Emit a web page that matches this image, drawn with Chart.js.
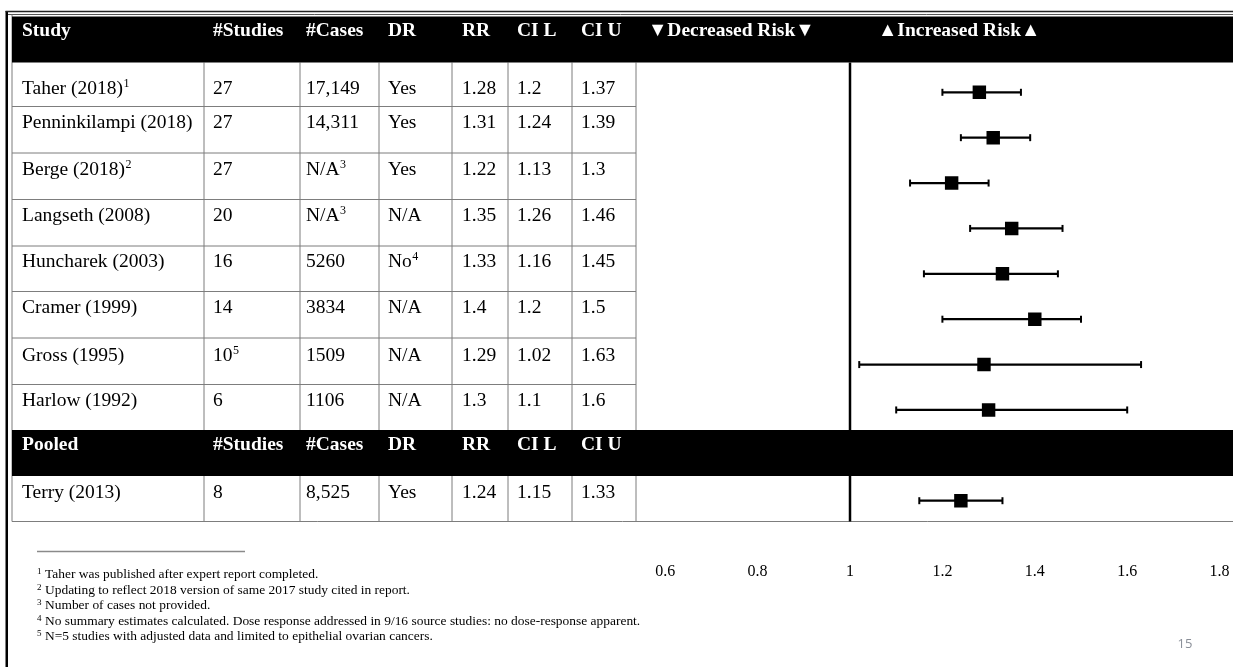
<!DOCTYPE html>
<html>
<head>
<meta charset="utf-8">
<script src="https://cdn.jsdelivr.net/npm/chart.js@4.4.0/dist/chart.umd.min.js"></script>
<style>
  html, body { margin: 0; padding: 0; background: #fff; overflow: hidden; }
  canvas { display: block; }
</style>
</head>
<body>
<canvas id="forest" width="1233" height="667"></canvas>
<script>
// ---------- data ----------
const headerLabels = ['Study', '#Studies', '#Cases', 'DR', 'RR', 'CI L', 'CI U'];
const pooledLabels = ['Pooled', '#Studies', '#Cases', 'DR', 'RR', 'CI L', 'CI U'];
const riskLabels = ['\u25BCDecreased Risk\u25BC', '\u25B2Increased Risk\u25B2'];

const studyNames   = ['Taher (2018)', 'Penninkilampi (2018)', 'Berge (2018)', 'Langseth (2008)', 'Huncharek (2003)', 'Cramer (1999)', 'Gross (1995)', 'Harlow (1992)'];
const studyNotes   = ['1', '', '2', '', '', '', '', ''];
const studyCounts  = ['27', '27', '27', '20', '16', '14', '10', '6'];
const countNotes   = ['', '', '', '', '', '', '5', ''];
const caseCounts   = ['17,149', '14,311', 'N/A', 'N/A', '5260', '3834', '1509', '1106'];
const caseNotes    = ['', '', '3', '3', '', '', '', ''];
const doseResponse = ['Yes', 'Yes', 'Yes', 'N/A', 'No', 'N/A', 'N/A', 'N/A'];
const drNotes      = ['', '', '', '', '4', '', '', ''];
const relRisk      = [1.28, 1.31, 1.22, 1.35, 1.33, 1.4, 1.29, 1.3];
const ciLower      = [1.2, 1.24, 1.13, 1.26, 1.16, 1.2, 1.02, 1.1];
const ciUpper      = [1.37, 1.39, 1.3, 1.46, 1.45, 1.5, 1.63, 1.6];

const pooledNames  = ['Terry (2013)'];
const pooledCounts = ['8'];
const pooledCases  = ['8,525'];
const pooledDR     = ['Yes'];
const pooledRR     = [1.24];
const pooledLower  = [1.15];
const pooledUpper  = [1.33];

const xTicks = [0.6, 0.8, 1, 1.2, 1.4, 1.6, 1.8];
const referenceRR = 1;

const footnoteMarks = ['1', '2', '3', '4', '5'];
const footnotes = [
  'Taher was published after expert report completed.',
  'Updating to reflect 2018 version of same 2017 study cited in report.',
  'Number of cases not provided.',
  'No summary estimates calculated. Dose response addressed in 9/16 source studies: no dose-response apparent.',
  'N=5 studies with adjusted data and limited to epithelial ovarian cancers.'
];
const pageNumber = '15';

// ---------- layout ----------
const W = 1233, H = 667;
const COLS = [12, 204, 300, 379, 452, 508, 572, 636];
const PADS = [10, 9, 6, 9, 10, 9, 9];
const RISK_X = [648, 878];
const HEADER_BAND = [16.5, 62.5];
const ROW_LINES = [106.5, 153, 199.5, 246, 291.5, 338, 384.5];
const POOLED_BAND = [430, 476];
const TABLE_BOTTOM = 521.5;
const HEADER_BASE = 36;
const POOLED_HEADER_BASE = 449.5;
const ROW_BASES = [94, 128, 175, 221, 267, 313, 360.5, 406];
const POOLED_BASES = [497.5];
const FOOT_BASES = [578, 593.5, 609, 624.5, 640];
const SERIF = '"Liberation Serif", "Times New Roman", serif';
const GRID = '#7d7d7d';

function font(size, bold) { return (bold ? 'bold ' : '') + size + 'px ' + SERIF; }

function cellText(ctx, text, note, x, base, opts) {
  const size = opts.size || 19.5;
  ctx.font = font(size, opts.bold);
  ctx.fillStyle = opts.color || '#000';
  ctx.textAlign = 'left';
  ctx.textBaseline = 'alphabetic';
  ctx.fillText(text, x, base);
  if (note) {
    const w = ctx.measureText(text).width;
    ctx.font = font(opts.noteSize || 12, false);
    ctx.fillText(note, x + w + 0.5, base - (opts.raise || 7));
  }
}

function hline(ctx, x0, x1, y, color, lw) {
  ctx.strokeStyle = color; ctx.lineWidth = lw;
  ctx.beginPath(); ctx.moveTo(x0, y); ctx.lineTo(x1, y); ctx.stroke();
}
function vline(ctx, x, y0, y1, color, lw) {
  ctx.strokeStyle = color; ctx.lineWidth = lw;
  ctx.beginPath(); ctx.moveTo(x, y0); ctx.lineTo(x, y1); ctx.stroke();
}

// table, frame and notes painted beneath the plot
const tablePlugin = {
  id: 'table',
  beforeDraw(chart) {
    const ctx = chart.ctx;
    ctx.save();
    ctx.fillStyle = '#fff';
    ctx.fillRect(0, 0, W, H);

    // outer frame
    ctx.fillStyle = '#000';
    ctx.fillRect(5.5, 11, 2.5, H - 11);
    hline(ctx, 5.5, W, 11.5, '#222', 1.3);
    hline(ctx, 8, W, 14.5, '#555', 1);
    vline(ctx, 12, 14.5, TABLE_BOTTOM, GRID, 1);

    // grid lines of the table
    ROW_LINES.forEach(y => hline(ctx, 12, COLS[7], y, GRID, 1));
    hline(ctx, 12, W, TABLE_BOTTOM, GRID, 1);
    COLS.slice(1).forEach(x => {
      vline(ctx, x, HEADER_BAND[1], POOLED_BAND[0], GRID, 1);
      vline(ctx, x, POOLED_BAND[1], TABLE_BOTTOM, GRID, 1);
    });

    // black header bands
    ctx.fillStyle = '#000';
    ctx.fillRect(12, HEADER_BAND[0], W - 12, HEADER_BAND[1] - HEADER_BAND[0]);
    ctx.fillRect(12, POOLED_BAND[0], W - 12, POOLED_BAND[1] - POOLED_BAND[0]);

    headerLabels.forEach((t, c) => cellText(ctx, t, '', COLS[c] + PADS[c], HEADER_BASE, { bold: true, color: '#fff' }));
    riskLabels.forEach((t, i) => cellText(ctx, t, '', RISK_X[i], HEADER_BASE, { bold: true, color: '#fff' }));
    pooledLabels.forEach((t, c) => cellText(ctx, t, '', COLS[c] + PADS[c], POOLED_HEADER_BASE, { bold: true, color: '#fff' }));

    // study rows
    studyNames.forEach((name, r) => {
      const b = ROW_BASES[r];
      const cells = [
        [name, studyNotes[r]], [studyCounts[r], countNotes[r]], [caseCounts[r], caseNotes[r]],
        [doseResponse[r], drNotes[r]], [String(relRisk[r]), ''], [String(ciLower[r]), ''], [String(ciUpper[r]), '']
      ];
      cells.forEach((cell, c) => cellText(ctx, cell[0], cell[1], COLS[c] + PADS[c], b, {}));
    });
    pooledNames.forEach((name, r) => {
      const b = POOLED_BASES[r];
      const cells = [name, pooledCounts[r], pooledCases[r], pooledDR[r], String(pooledRR[r]), String(pooledLower[r]), String(pooledUpper[r])];
      cells.forEach((t, c) => cellText(ctx, t, '', COLS[c] + PADS[c], b, {}));
    });

    // footnotes
    hline(ctx, 37, 245, 551.5, '#8a8a8a', 1.5);
    footnotes.forEach((t, i) => {
      ctx.font = font(9, false);
      ctx.fillStyle = '#000';
      ctx.textAlign = 'left';
      ctx.textBaseline = 'alphabetic';
      ctx.fillText(footnoteMarks[i], 37, FOOT_BASES[i] - 4);
      ctx.font = font(13.45, false);
      ctx.fillText(t, 45, FOOT_BASES[i]);
    });

    // page number
    ctx.font = '13px "Open Sans", "Liberation Sans", sans-serif';
    ctx.fillStyle = '#8a8f98';
    ctx.textAlign = 'center';
    ctx.fillText(pageNumber, 1185, 648);
    ctx.restore();
  }
};

// reference line and confidence intervals, drawn under the squares
const intervalPlugin = {
  id: 'intervals',
  beforeDatasetsDraw(chart) {
    const { ctx, scales: { x, y } } = chart;
    ctx.save();
    const xr = x.getPixelForValue(referenceRR);
    vline(ctx, xr, HEADER_BAND[1], TABLE_BOTTOM, '#000', 2.5);
    chart.data.datasets[0].data.forEach(p => {
      const yy = y.getPixelForValue(p.y);
      const xl = x.getPixelForValue(p.lo);
      const xh = x.getPixelForValue(p.hi);
      hline(ctx, xl, xh, yy, '#000', 2.2);
      vline(ctx, xl, yy - 3.5, yy + 3.5, '#000', 2);
      vline(ctx, xh, yy - 3.5, yy + 3.5, '#000', 2);
    });
    ctx.restore();
  }
};

const points = relRisk.map((v, i) => ({ x: v, y: i, lo: ciLower[i], hi: ciUpper[i] }))
  .concat(pooledRR.map((v, i) => ({ x: v, y: studyNames.length + 1 + i, lo: pooledLower[i], hi: pooledUpper[i] })));

new Chart(document.getElementById('forest'), {
  type: 'scatter',
  data: {
    datasets: [{
      data: points,
      pointStyle: 'rect',
      pointRadius: 9.5,
      pointBorderWidth: 0,
      backgroundColor: '#000',
      borderColor: '#000'
    }]
  },
  options: {
    responsive: false,
    animation: false,
    devicePixelRatio: 1,
    layout: { padding: { left: 665.2, right: 13.4, top: 69.6, bottom: 83.6 } },
    plugins: { legend: { display: false }, tooltip: { enabled: false } },
    scales: {
      x: {
        type: 'linear',
        min: xTicks[0],
        max: xTicks[xTicks.length - 1],
        afterBuildTicks: s => { s.ticks = xTicks.map(v => ({ value: v })); },
        afterFit: s => { s.height = 60; },
        grid: { display: true, drawOnChartArea: false, drawTicks: true, tickLength: 39, color: 'rgba(0,0,0,0)' },
        border: { display: false },
        ticks: {
          padding: 0,
          color: '#000',
          font: { family: SERIF, size: 16 },
          maxRotation: 0,
          autoSkip: false,
          callback: v => String(v)
        }
      },
      y: {
        type: 'linear',
        reverse: true,
        min: -0.5,
        max: studyNames.length + pooledNames.length + 0.5,
        display: false
      }
    }
  },
  plugins: [tablePlugin, intervalPlugin]
});
</script>
</body>
</html>
